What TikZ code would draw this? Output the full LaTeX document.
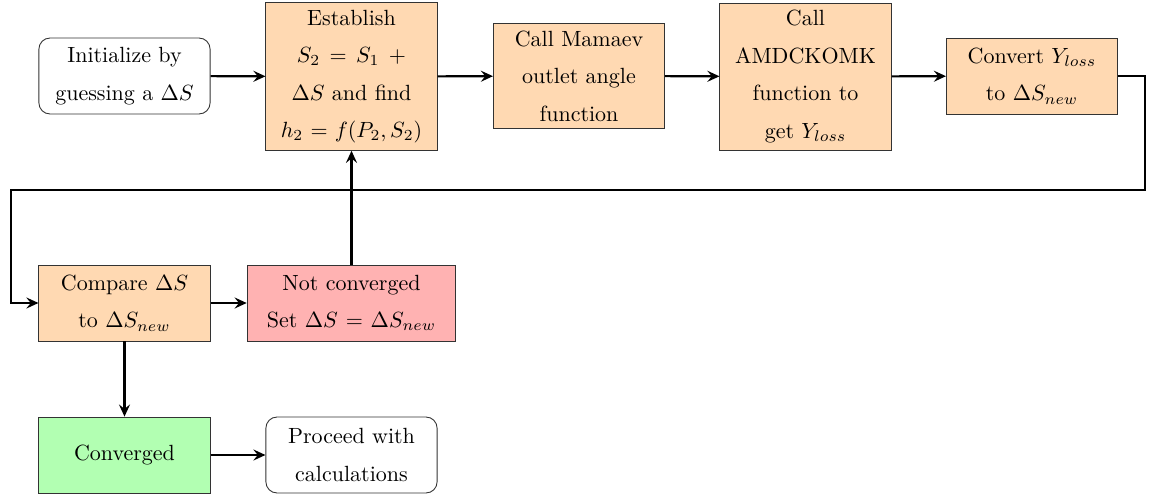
\documentclass[tikz,border=0pt]{standalone}
\usetikzlibrary{arrows.meta}
\begin{document}
\begin{tikzpicture}[x=0.4545pt,y=-0.4545pt,
  box/.style={draw=black!80, align=center, text width=2.5cm, minimum height=34.5pt,
     inner sep=3.33pt, font=\fontsize{10}{17}\selectfont},
  proc/.style={box, fill=orange!30},
  term/.style={box, rounded corners=5pt, fill=white},
  bad/.style={box, fill=red!30, text width=3.1cm},
  good/.style={box, fill=green!30},
  arr/.style={line width=0.95pt, -{Stealth[length=5.5pt,width=5pt,inset=2pt]}},
  ln/.style={line width=0.95pt}]
\useasboundingbox (0,0) rectangle (1152,496);
\node[term] (init) at (124.5,76) {Initialize by\\guessing a $\Delta S$};
\node[proc] (est) at (351.5,76.5) {Establish\\$S_2 = S_1\;+$\\$\Delta S$ and find\\$h_2 = f(P_2,S_2)$};
\node[proc] (mam) at (579,76) {Call Mamaev\\outlet angle\\function};
\node[proc] (amd) at (805.5,76.5) {Call\\AMDCKOMK\\function to\\get $Y_{loss}$};
\node[proc] (conv) at (1032,76) {Convert $Y_{loss}$\\to $\Delta S_{new}$};
\node[proc] (comp) at (124.5,303) {Compare $\Delta S$\\to $\Delta S_{new}$};
\node[bad] (nc) at (351.5,303) {Not converged\\Set $\Delta S = \Delta S_{new}$};
\node[good] (done) at (124.5,455) {Converged};
\node[term] (go) at (351.5,455) {Proceed with\\calculations};
\coordinate (r1) at (1145,190);
\coordinate (l1) at (11,190);
\draw[arr] (init) -- (est);
\draw[arr] (est) -- (mam);
\draw[arr] (mam) -- (amd);
\draw[arr] (amd) -- (conv);
\draw[arr] (conv.east) -| (r1) -- (l1) |- (comp.west);
\draw[arr] (comp) -- (nc);
\draw[arr] (nc.north) -- (est.south);
\draw[arr] (comp) -- (done);
\draw[arr] (done) -- (go);
\end{tikzpicture}
\end{document}
